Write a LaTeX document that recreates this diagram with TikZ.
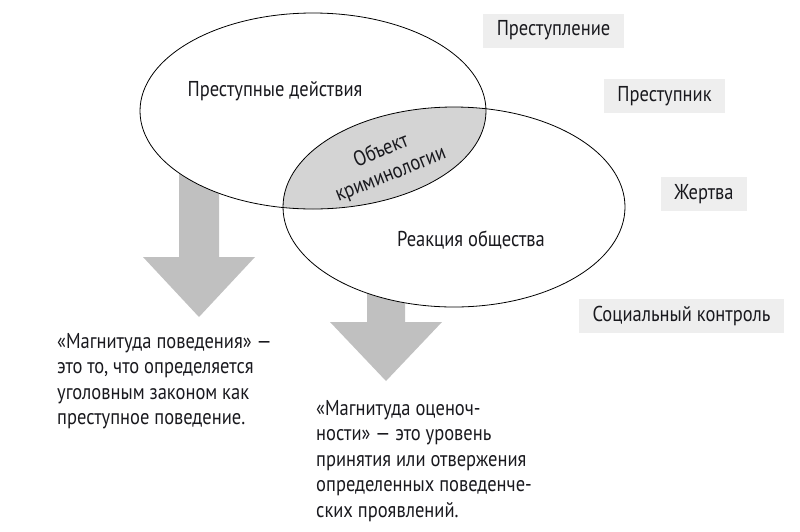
\documentclass[tikz,border=0pt]{standalone}
\usepackage{fontspec}
\setmainfont[FakeStretch=0.86]{PT Sans}
\usetikzlibrary{shapes.geometric}
\definecolor{arrowgray}{RGB}{192,192,192}
\definecolor{overlapgray}{RGB}{212,212,212}
\definecolor{boxgray}{RGB}{238,238,238}
\definecolor{ink}{RGB}{25,25,30}
\tikzset{
  txt/.style={text=ink, font=\fontsize{21.5}{25.5}\selectfont, inner sep=0pt},
  para/.style={txt, align=left, anchor=north west},
  tag/.style={txt, fill=boxgray, minimum height=34pt, inner xsep=11pt},
  blockarrow/.style={fill=arrowgray, draw=none},
  venn/.style={draw=black, line width=0.8pt}
}
\begin{document}
\begin{tikzpicture}[x=1pt,y=-1pt]
\useasboundingbox (0,0) rectangle (800,531);
% block arrows
\fill[blockarrow] (179,150) -- (219,150) -- (219,257) -- (255,257) -- (199,317) -- (143,257) -- (179,257) -- cycle;
\fill[blockarrow] (367,280) -- (405,280) -- (405,322) -- (442,322) -- (386,381) -- (330,322) -- (367,322) -- cycle;
% ellipses
\coordinate (c1) at (313,111);
\coordinate (c2) at (454,207);
\fill[white] (c1) ellipse (173 and 98);
\fill[white] (c2) ellipse (171 and 100);
\begin{scope}
  \clip (c1) ellipse (173 and 98);
  \fill[overlapgray] (c2) ellipse (171 and 100);
\end{scope}
\node[venn, ellipse, minimum width=346pt, minimum height=196pt, inner sep=0pt] (e1) at (c1) {};
\node[venn, ellipse, minimum width=342pt, minimum height=200pt, inner sep=0pt] (e2) at (c2) {};
% ellipse texts
\node[txt] (t1) at (275,91) {Преступные действия};
\node[txt] (t2) at (471,240) {Реакция общества};
\node[txt, align=center, rotate=22] (t3) at (386,163) {Объект\\криминологии};
% tags
\node[tag, minimum width=141pt] (g1) at (553.5,30.5) {Преступление};
\node[tag, minimum width=121pt] (g2) at (664.5,96) {Преступник};
\node[tag, minimum width=86pt] (g3) at (704,194) {Жертва};
\node[tag, minimum width=205pt] (g4) at (681.5,315.5) {Социальный контроль};
% paragraphs
\node[para] (p1) at (57,333) {«Магнитуда поведения» —\\это то, что определяется\\уголовным законом как\\преступное поведение.};
\node[para] (p2) at (316,400) {«Магнитуда оценоч-\\ности» — это уровень\\принятия или отвержения\\определенных поведенче-\\ских проявлений.};
\end{tikzpicture}
\end{document}
